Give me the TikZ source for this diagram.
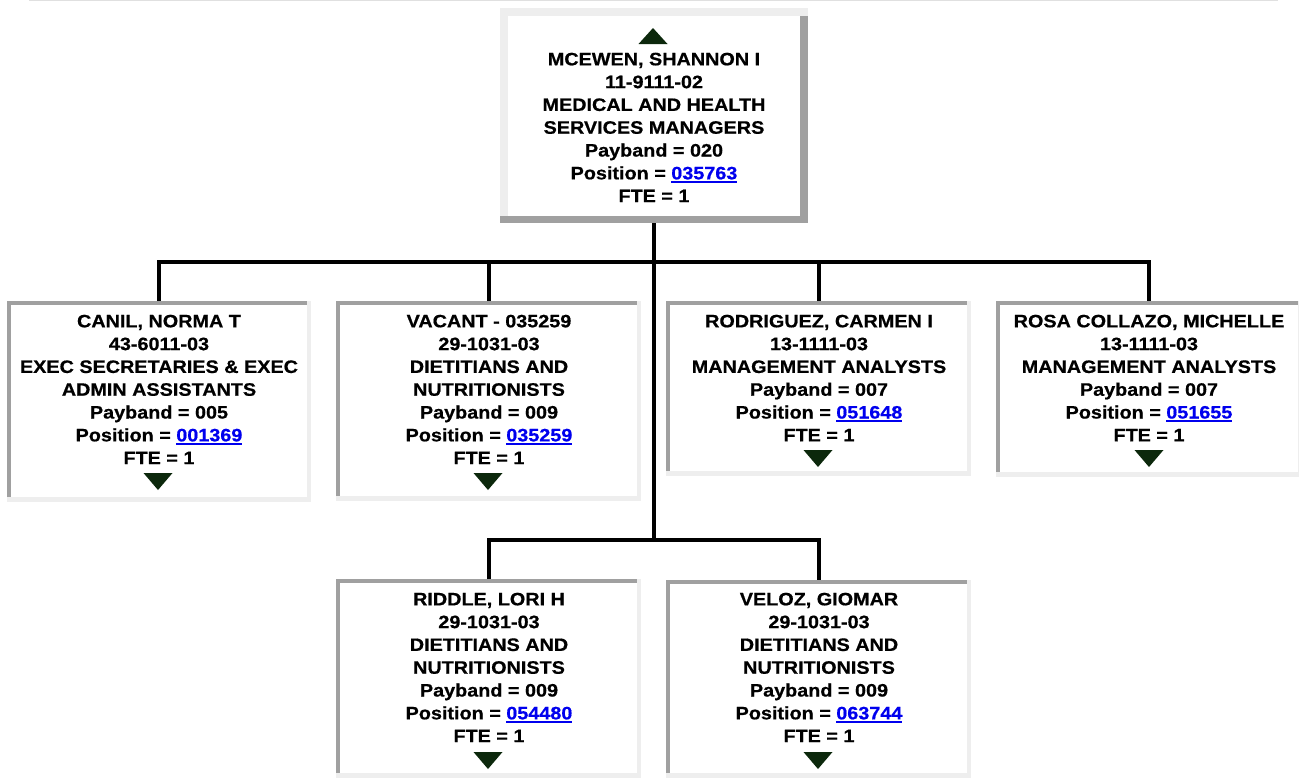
\documentclass[tikz,border=0pt]{standalone}
\usepackage{fontspec}
\setmainfont{Liberation Sans}[FakeStretch=1.1, BoldFeatures={FakeBold=0.6}]
\usetikzlibrary{fit,calc}
\definecolor{lgray}{RGB}{238,238,238}
\definecolor{dgray}{RGB}{160,160,160}
\definecolor{tricol}{RGB}{12,40,12}
\definecolor{linkblue}{RGB}{0,0,238}
\definecolor{hairline}{RGB}{224,224,224}
\newcommand\lnk[1]{\textcolor{linkblue}{\setbox0\hbox{#1}\rlap{\rule[-2.6pt]{\wd0}{1.4pt}}\box0}}
\newcommand\childframe[1]{%
  \fill[lgray] (#1.north west) rectangle (#1.south east);
  \fill[dgray] (#1.north west) rectangle ($(#1.south east)+(-4,-5)$);
  \fill[white] ($(#1.north west)+(4,4)$) rectangle ($(#1.south east)+(-4,-5)$);}
\newcommand\downtri[2]{\fill[tricol] ({#1-14.5},#2) -- ({#1+14.5},#2) -- (#1,{#2+17}) -- cycle;}
\tikzset{
  area/.style={inner sep=0pt, outer sep=0pt},
  lbl/.style={anchor=north, align=center, inner sep=0pt,
    font=\fontsize{13.5pt}{17.1pt}\selectfont\bfseries},
  conn/.style={line width=3pt, draw=black, line join=miter},
}
\begin{document}
\begin{tikzpicture}[x=0.75pt, y=-0.75pt]
\useasboundingbox (0,0) rectangle (1299,782);
% thin rule at the top
\draw[hairline, line width=0.75pt] (29,0.5) -- (1278,0.5);
% box areas
\node[area, fit={(500,8)(808,223)}] (top) {};
\node[area, fit={(7,301)(311,502)}] (c1) {};
\node[area, fit={(336,301)(641,501)}] (c2) {};
\node[area, fit={(666,301)(971,476)}] (c3) {};
\node[area, fit={(996,301)(1302,477)}] (c4) {};
\node[area, fit={(336,579)(641,778)}] (c5) {};
\node[area, fit={(666,580)(971,778)}] (c6) {};
% top frame
\fill[dgray] (top.north west) rectangle (top.south east);
\fill[lgray] (top.north west) rectangle ($(top.north east)+(0,8)$);
\fill[lgray] (top.north west) rectangle ($(top.south west)+(8,-7)$);
\fill[white] ($(top.north west)+(8,8)$) rectangle ($(top.south east)+(-8,-7)$);
% child frames
\childframe{c1}\childframe{c2}\childframe{c3}\childframe{c4}\childframe{c5}\childframe{c6}
% connectors
\coordinate (bus) at (654,262);
\coordinate (lowbus) at (654,540);
\draw[conn] (top.south) -- (lowbus);
\draw[conn] (c1.north) |- (bus -| c4.north) -- (c4.north);
\draw[conn] (c2.north) -- (c2.north |- bus);
\draw[conn] (c3.north) -- (c3.north |- bus);
\draw[conn] (c5.north) |- (lowbus -| c6.north) -- (c6.north);
% texts
\node[lbl] (t0) at (654,52.5) {MCEWEN, SHANNON I\\11-9111-02\\MEDICAL AND HEALTH\\SERVICES MANAGERS\\Payband = 020\\Position = \lnk{035763}\\FTE = 1};
\node[lbl] (t1) at (159,314.5) {CANIL, NORMA T\\43-6011-03\\EXEC SECRETARIES \& EXEC\\ADMIN ASSISTANTS\\Payband = 005\\Position = \lnk{001369}\\FTE = 1};
\node[lbl] (t2) at (489,314.5) {VACANT - 035259\\29-1031-03\\DIETITIANS AND\\NUTRITIONISTS\\Payband = 009\\Position = \lnk{035259}\\FTE = 1};
\node[lbl] (t3) at (819,314.5) {RODRIGUEZ, CARMEN I\\13-1111-03\\MANAGEMENT ANALYSTS\\Payband = 007\\Position = \lnk{051648}\\FTE = 1};
\node[lbl] (t4) at (1149,314.5) {ROSA COLLAZO, MICHELLE\\13-1111-03\\MANAGEMENT ANALYSTS\\Payband = 007\\Position = \lnk{051655}\\FTE = 1};
\node[lbl] (t5) at (489,592.5) {RIDDLE, LORI H\\29-1031-03\\DIETITIANS AND\\NUTRITIONISTS\\Payband = 009\\Position = \lnk{054480}\\FTE = 1};
\node[lbl] (t6) at (819,592.5) {VELOZ, GIOMAR\\29-1031-03\\DIETITIANS AND\\NUTRITIONISTS\\Payband = 009\\Position = \lnk{063744}\\FTE = 1};
% expand / collapse triangles
\fill[tricol] (638.5,44) -- (667.5,44) -- (653,28) -- cycle;
\downtri{158}{473}
\downtri{488}{473}
\downtri{818}{450}
\downtri{1149}{450}
\downtri{488}{752}
\downtri{818}{752}
\end{tikzpicture}
\end{document}
